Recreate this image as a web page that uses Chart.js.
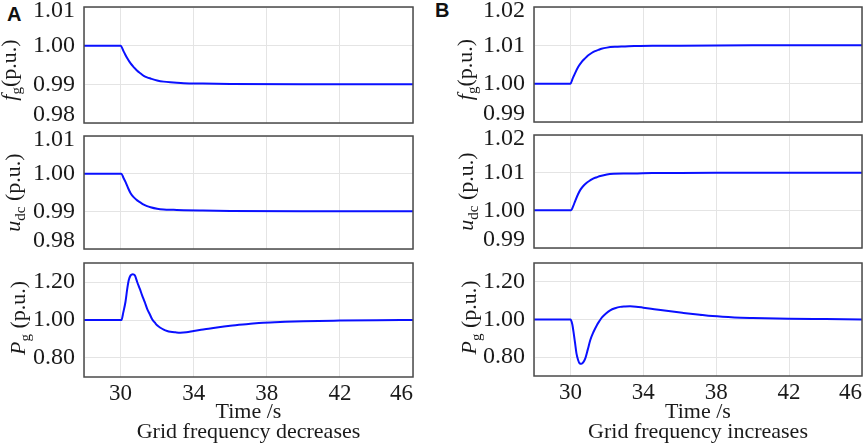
<!DOCTYPE html>
<html><head><meta charset="utf-8">
<script src="https://cdn.jsdelivr.net/npm/chart.js@4.4.1/dist/chart.umd.min.js"></script>
<style>
html,body{margin:0;padding:0;background:#fff;overflow:hidden;width:865px;height:446px;}
#wrap{position:relative;width:865px;height:446px;overflow:hidden;background:#fff;}
#wrap canvas{position:absolute;}
.lbl{position:absolute;font-family:'Liberation Sans',Arial,sans-serif;font-weight:bold;font-size:20px;line-height:1;color:#111;}
</style></head><body>
<div id="wrap">
<div class="lbl" style="left:7px;top:4px">A</div>
<div class="lbl" style="left:435px;top:0px">B</div>
</div>
<script>
// ---------- data ----------
const xTicks = [28, 30, 34, 38, 42, 46];
const xTickLabels = ['', '30', '34', '38', '42', '46'];
const yTicksDec = [0.98, 0.99, 1.00, 1.01];
const yTicksInc = [0.99, 1.00, 1.01, 1.02];
const pTicks = [0.80, 1.00, 1.20];

// A: grid frequency decreases
const tFgA = [28, 30, 30.18, 30.36, 30.55, 30.73, 30.91, 31.1, 31.27, 31.45, 31.64, 32, 32.36, 32.9, 33.45, 34.5, 36, 40, 46];
const fgA  = [1.0, 1.0, 0.9984, 0.9968, 0.9954, 0.9944, 0.9935, 0.9928, 0.9922, 0.9918, 0.9915, 0.9910, 0.9907, 0.9905, 0.9903, 0.9902, 0.9901, 0.9900, 0.9900];

const tUA = [28, 30.04, 30.15, 30.27, 30.41, 30.55, 30.73, 30.91, 31.1, 31.27, 31.45, 31.64, 32, 32.36, 32.9, 33.45, 34.5, 36, 40, 46];
const uA  = [1.0, 1.0, 0.9990, 0.9978, 0.9962, 0.9948, 0.9937, 0.9929, 0.9923, 0.9918, 0.9914, 0.9911, 0.9907, 0.9905, 0.9904, 0.9903, 0.9902, 0.9901, 0.9900, 0.9900];

const tPA = [28, 30.05, 30.15, 30.27, 30.36, 30.45, 30.55, 30.67, 30.78, 30.91, 31.05, 31.18, 31.32, 31.45, 31.6, 31.73, 31.87, 32.0, 32.18, 32.36, 32.55, 32.73, 33.0, 33.27, 33.6, 34.0, 34.6, 35.27, 36, 37, 37.8, 39, 40, 42, 44, 46];
const pA  = [1.0, 1.0, 1.04, 1.096, 1.16, 1.21, 1.235, 1.241, 1.235, 1.20, 1.165, 1.13, 1.095, 1.06, 1.03, 1.004, 0.987, 0.972, 0.959, 0.949, 0.942, 0.938, 0.935, 0.933, 0.935, 0.942, 0.951, 0.961, 0.970, 0.979, 0.986, 0.991, 0.994, 0.997, 0.999, 1.0];

// B: grid frequency increases
const tFgB = [28, 30, 30.12, 30.25, 30.43, 30.62, 30.8, 30.98, 31.16, 31.35, 31.53, 31.7, 32.0, 32.44, 33, 33.5, 34.5, 36, 40, 46];
const fgB  = [1.0, 1.0, 1.0013, 1.0027, 1.0044, 1.0057, 1.0066, 1.0074, 1.0080, 1.0085, 1.0088, 1.0091, 1.0094, 1.0096, 1.0097, 1.0098, 1.0099, 1.0099, 1.0100, 1.0100];

const tUB = [28, 30.04, 30.15, 30.27, 30.41, 30.55, 30.73, 30.91, 31.1, 31.27, 31.45, 31.64, 32, 32.36, 32.9, 33.45, 34.5, 36, 40, 46];
const uB  = [1.0, 1.0, 1.0011, 1.0026, 1.0042, 1.0055, 1.0066, 1.0074, 1.0080, 1.0085, 1.0088, 1.0091, 1.0095, 1.0097, 1.0098, 1.0098, 1.0099, 1.0099, 1.0100, 1.0100];

const tPB = [28, 30.0, 30.1, 30.18, 30.26, 30.33, 30.42, 30.5, 30.6, 30.7, 30.82, 30.95, 31.09, 31.27, 31.45, 31.6, 31.73, 31.95, 32.18, 32.45, 32.73, 33.0, 33.27, 33.6, 34.0, 34.6, 35.27, 36.2, 37.1, 37.8, 39, 40, 42, 44, 46];
const pB  = [1.0, 1.0, 0.975, 0.926, 0.87, 0.82, 0.785, 0.768, 0.765, 0.772, 0.795, 0.84, 0.891, 0.935, 0.97, 0.993, 1.011, 1.032, 1.049, 1.060, 1.067, 1.069, 1.070, 1.068, 1.063, 1.055, 1.046, 1.035, 1.025, 1.018, 1.011, 1.008, 1.004, 1.002, 1.0];

// ---------- drawing ----------
const family = "'Liberation Serif', 'Times New Roman', serif";
const textColor = '#1a1a1a';
const gridColor = '#e4e4e4';
const lineColor = '#0a10ff';
Chart.defaults.font.family = family;
Chart.defaults.color = textColor;

const boxPlugin = {
  id: 'box',
  afterDraw(chart) {
    const {ctx, chartArea: a} = chart;
    ctx.save();
    ctx.strokeStyle = '#4a4a4a';
    ctx.lineWidth = 1.5;
    ctx.strokeRect(a.left, a.top, a.right - a.left, a.bottom - a.top);
    ctx.restore();
  }
};

const yTitlePlugin = {
  id: 'ytitle',
  afterDraw(chart, args, o) {
    if (!o || !o.parts) return;
    const {ctx, chartArea: a} = chart;
    const size = o.size, sub = Math.round(size * 0.7);
    const fonts = o.parts.map(p => (p.italic ? 'italic ' : '') + (p.sub ? sub : size) + 'px ' + family);
    ctx.save();
    let total = 0;
    const widths = o.parts.map((p, i) => { ctx.font = fonts[i]; const w = ctx.measureText(p.t).width; total += w; return w; });
    ctx.translate(o.x, (a.top + a.bottom) / 2 + (o.dy || 0));
    ctx.rotate(-Math.PI / 2);
    ctx.fillStyle = textColor;
    ctx.textBaseline = 'alphabetic';
    ctx.textAlign = 'left';
    let x = -total / 2;
    o.parts.forEach((p, i) => {
      ctx.font = fonts[i];
      ctx.fillText(p.t, x, p.sub ? size * 0.22 : 0);
      x += widths[i];
    });
    ctx.restore();
  }
};

function panel(p) {
  const cv = document.createElement('canvas');
  cv.width = p.w; cv.height = p.h;
  cv.style.left = p.left + 'px'; cv.style.top = p.top + 'px';
  cv.style.width = p.w + 'px'; cv.style.height = p.h + 'px';
  document.getElementById('wrap').appendChild(cv);
  const yMin = p.yMin, yMax = p.yMax;
  const isMax = v => Math.abs(v - yMax) < 1e-9;
  const isMin = v => Math.abs(v - yMin) < 1e-9;
  new Chart(cv, {
    type: 'line',
    data: { datasets: [{
      data: p.t.map((x, i) => ({x: x, y: p.v[i]})),
      borderColor: lineColor, borderWidth: 2, pointRadius: 0,
      cubicInterpolationMode: 'monotone', fill: false
    }]},
    options: {
      responsive: false, animation: false, events: [],
      devicePixelRatio: 1,
      layout: { padding: { left: 0, right: p.padR, top: p.padT, bottom: p.padB } },
      plugins: {
        legend: { display: false }, tooltip: { enabled: false },
        ytitle: { parts: p.title, size: p.titleSize, x: p.titleX, dy: p.titleDy }
      },
      scales: {
        x: {
          type: 'linear', min: 28, max: 46,
          afterBuildTicks: s => { s.ticks = xTicks.map(v => ({value: v})); },
          afterFit: s => { s.height = p.xH; s.paddingLeft = 0; s.paddingRight = 0; },
          grid: { color: gridColor, lineWidth: 1, drawTicks: false },
          border: { display: false },
          ticks: {
            display: p.showX, padding: 3, maxRotation: 0, minRotation: 0, autoSkip: false,
            align: 'inner', color: textColor, font: { family: family, size: 23 },
            callback: (v, i) => xTickLabels[xTicks.indexOf(v)]
          },
          title: {
            display: p.showX, text: ['Time /s', p.caption], color: textColor,
            font: { family: family, size: 22, lineHeight: '20px' },
            padding: { top: 0, bottom: 4 }
          }
        },
        y: {
          type: 'linear', min: yMin, max: yMax,
          afterBuildTicks: s => { s.ticks = p.yTicks.map(v => ({value: v})); },
          afterFit: s => { s.width = 84; s.paddingTop = 0; s.paddingBottom = 0; },
          grid: { color: gridColor, lineWidth: 1, drawTicks: false },
          border: { display: false },
          ticks: {
            padding: 9, color: textColor,
            font: ctx => {
              const v = ctx.tick ? ctx.tick.value : 0;
              return { family: family, size: 24, lineHeight: isMax(v) ? '8px' : (isMin(v) ? '16px' : 1.2) };
            },
            callback: v => {
              const s = v.toFixed(2);
              if (isMax(v)) return ['', s];
              if (isMin(v)) return [s, ''];
              return s;
            }
          }
        }
      }
    },
    plugins: [boxPlugin, yTitlePlugin]
  });
}

const tFg = [{t: 'f', italic: true}, {t: 'g', sub: true}, {t: '(p.u.)'}];
const tU  = [{t: 'u', italic: true}, {t: 'dc', sub: true}, {t: ' (p.u.)'}];
const tP  = [{t: 'P', italic: true}, {t: 'g', sub: true}, {t: ' (p.u.)'}];

const cols = [
  { left: 0, w: 430, padR: 17, caption: 'Grid frequency decreases',
    rows: [ {T: 7, B: 123, t: tFgA, v: fgA, yMin: 0.98, yMax: 1.01, yTicks: yTicksDec, title: tFg, tx: 16, ts: 22, dy: 5},
            {T: 136, B: 249, t: tUA, v: uA, yMin: 0.98, yMax: 1.01, yTicks: yTicksDec, title: tU, tx: 20, ts: 22, dy: 0},
            {T: 263, B: 377, t: tPA, v: pA, yMin: 0.70, yMax: 1.30, yTicks: pTicks, title: tP, tx: 25, ts: 22, dy: -2} ] },
  { left: 450, w: 430, padR: 18, caption: 'Grid frequency increases',
    rows: [ {T: 7, B: 122, t: tFgB, v: fgB, yMin: 0.99, yMax: 1.02, yTicks: yTicksInc, title: tFg, tx: 22, ts: 22, dy: 5},
            {T: 135, B: 248, t: tUB, v: uB, yMin: 0.99, yMax: 1.02, yTicks: yTicksInc, title: tU, tx: 23, ts: 22, dy: 0},
            {T: 263, B: 376, t: tPB, v: pB, yMin: 0.70, yMax: 1.30, yTicks: pTicks, title: tP, tx: 26, ts: 22, dy: -2} ] }
];

cols.forEach(c => {
  c.rows.forEach((r, i) => {
    const last = i === 2;
    const top = r.T - 16;
    const h = last ? 446 - top : (r.B - r.T) + 32;
    const padB = last ? 0 : 16;
    const xH = last ? h - 16 - (r.B - r.T) : 0;
    panel({
      left: c.left, top: top, w: c.w, h: h, padR: c.padR, padT: 16, padB: padB, xH: xH,
      showX: last, caption: c.caption, t: r.t, v: r.v, yMin: r.yMin, yMax: r.yMax, yTicks: r.yTicks,
      title: r.title, titleSize: r.ts, titleX: r.tx, titleDy: r.dy
    });
  });
});
</script>
</body></html>
